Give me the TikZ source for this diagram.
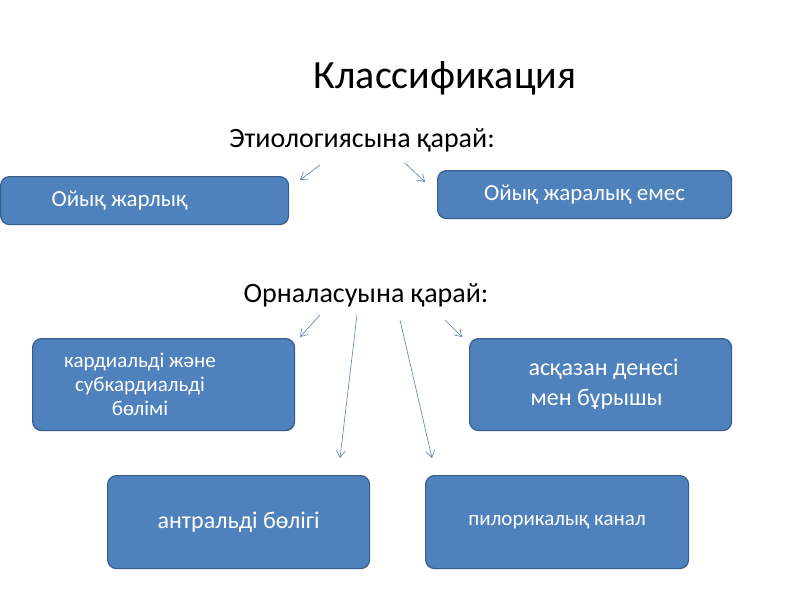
\documentclass[tikz,border=0pt]{standalone}
\usepackage{fontspec}
\setmainfont{Carlito}
\usetikzlibrary{arrows.meta}
\definecolor{boxfill}{HTML}{4F81BD}
\definecolor{boxline}{HTML}{385D8A}
\definecolor{arr}{HTML}{5B7DB5}
\tikzset{
 box/.style={draw=boxline,line width=1.2pt,fill=boxfill,rounded corners=9pt,text=white,align=center,font=\fontsize{23}{27}\selectfont,anchor=north west,inner sep=0pt},
 arrw/.style={draw=arr,line width=0.6pt,-{Straight Barb[length=7pt,width=9pt]}}
}
\begin{document}
\begin{tikzpicture}[x=1pt,y=-1pt]
\useasboundingbox (0,0) rectangle (800,600);
\fill[white] (0,0) rectangle (800,600);
\node[font=\fontsize{40}{48}\selectfont] (t) at (445,78) {Классификация};
\node[font=\fontsize{28}{34}\selectfont] (e) at (362,140) {Этиологиясына қарай:};
\node[font=\fontsize{28}{34}\selectfont] (o) at (366,295) {Орналасуына қарай:};
\node[box,minimum width=288,minimum height=48] (b1) at (0,176) {Ойық жарлық\hspace*{50pt}};
\node[box,minimum width=294,minimum height=48] (b2) at (437,170) {Ойық жаралық емес};
\node[box,minimum width=262,minimum height=92,font=\fontsize{21}{24}\selectfont] (b3) at (32,338) {};
\node[font=\fontsize{21}{24}\selectfont,text=white,align=center] at (140,384) {кардиальді және\\субкардиальді\\бөлімі};
\node[box,minimum width=262,minimum height=92,font=\fontsize{24}{30}\selectfont] (b4) at (469,338) {\hspace*{6pt}асқазан денесі\\мен бұрышы\hspace*{8pt}};
\node[box,minimum width=262,minimum height=93,font=\fontsize{24}{30}\selectfont] (b5) at (107,475) {антральді бөлігі};
\node[box,minimum width=263,minimum height=93,font=\fontsize{21}{26}\selectfont] (b6) at (425,475) {пилорикалық канал};
\coordinate (a1) at (320,165); \coordinate (a1e) at (300,180);
\coordinate (a2) at (405,163); \coordinate (a2e) at (425,182);
\coordinate (a3) at (320,315); \coordinate (a3e) at (300,337);
\coordinate (a4) at (357,315); \coordinate (a4e) at (340,458);
\coordinate (a5) at (400,320); \coordinate (a5e) at (432,458);
\coordinate (a6) at (445,320); \coordinate (a6e) at (462,337);
\foreach \i in {1,...,6} \draw[arrw] (a\i) -- (a\i e);
\end{tikzpicture}
\end{document}
